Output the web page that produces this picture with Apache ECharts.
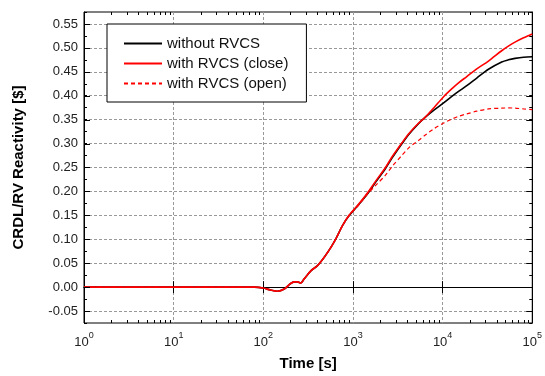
<!DOCTYPE html>
<html>
<head>
<meta charset="utf-8">
<script src="https://cdn.jsdelivr.net/npm/echarts@6/dist/echarts.min.js"></script>
<style>
html,body{margin:0;padding:0;background:#fff;}
#chart{width:545px;height:376px;}
</style>
</head>
<body>
<div id="chart"></div>
<script>
// ---- data ----
var timeS = [1, 10, 50, 80, 100, 120, 144, 171, 200, 221, 240, 262, 285, 339, 402, 476, 565, 653, 761, 903, 1166, 1442, 1800, 2306, 2735, 3530, 4190, 5410, 6420, 8000, 10260, 13000, 15060, 18600, 24040, 32450, 45600, 54100, 64200, 80000, 100000];
var withoutRVCS = [0, 0, 0, 0, -0.002, -0.006, -0.0086, -0.004, 0.007, 0.011, 0.011, 0.0087, 0.017, 0.034, 0.045, 0.062, 0.0825, 0.103, 0.128, 0.149, 0.173, 0.194, 0.220, 0.248, 0.270, 0.300, 0.319, 0.342, 0.3553, 0.370, 0.385, 0.400, 0.409, 0.421, 0.437, 0.4553, 0.4705, 0.475, 0.478, 0.4805, 0.4816];
var withRVCSclose = [0, 0, 0, 0, -0.002, -0.006, -0.0086, -0.004, 0.007, 0.011, 0.011, 0.0087, 0.017, 0.034, 0.045, 0.062, 0.0825, 0.103, 0.128, 0.150, 0.174, 0.196, 0.222, 0.250, 0.2725, 0.302, 0.3207, 0.343, 0.3553, 0.375, 0.398, 0.4165, 0.427, 0.440, 0.456, 0.4725, 0.494, 0.5036, 0.512, 0.521, 0.529];
var withRVCSopen = [0, 0, 0, 0, -0.002, -0.006, -0.0086, -0.004, 0.007, 0.011, 0.011, 0.0087, 0.017, 0.034, 0.045, 0.062, 0.0825, 0.103, 0.128, 0.149, 0.172, 0.194, 0.213, 0.234, 0.252, 0.2758, 0.291, 0.3068, 0.318, 0.331, 0.343, 0.352, 0.357, 0.362, 0.3677, 0.3725, 0.374, 0.3745, 0.374, 0.3725, 0.371];
var seriesNames = ['without RVCS', 'with RVCS (close)', 'with RVCS (open)'];
var yTickLabels = ['-0.05', '0.00', '0.05', '0.10', '0.15', '0.20', '0.25', '0.30', '0.35', '0.40', '0.45', '0.50', '0.55'];
var xMinorTicks = [];
[1, 10, 100, 1000, 10000].forEach(function (d) { for (var k = 2; k <= 9; k++) xMinorTicks.push(k * d); });
var X_MIN = 1, X_MAX = 100000, Y_MIN = -0.075, Y_MAX = 0.575;

function zip(xs, ys) { return xs.map(function (x, i) { return [x, ys[i]]; }); }

var FONT = '"Liberation Sans", Arial, sans-serif';
var chart = echarts.init(document.getElementById('chart'), null, { renderer: 'canvas' });

function tickSeries(data, fn) {
  return {
    type: 'custom', silent: true, clip: false, z: 5,
    data: data,
    renderItem: function (params, api) { return fn(api); }
  };
}

var option = {
  animation: false,
  backgroundColor: '#fff',
  textStyle: { fontFamily: FONT },
  grid: { left: 84, right: 10, top: 12, bottom: 50, show: true, borderColor: '#000', borderWidth: 1, backgroundColor: '#fff' },
  legend: {
    data: seriesNames,
    orient: 'vertical', left: 107, top: 24,
    padding: [12, 18, 11, 16],
    itemGap: 5, itemWidth: 38, itemHeight: 15,
    borderColor: '#000', borderWidth: 1, borderRadius: 0, backgroundColor: '#fff',
    itemStyle: { opacity: 0 },
    textStyle: { fontFamily: FONT, fontSize: 15, color: '#111' },
    selectedMode: false
  },
  xAxis: [{
    type: 'log', logBase: 10, min: X_MIN, max: X_MAX, splitNumber: 5,
    name: 'Time [s]', nameLocation: 'middle', nameGap: 33,
    nameTextStyle: { fontFamily: FONT, fontSize: 15, fontWeight: 'bold', color: '#000' },
    axisLine: { lineStyle: { color: '#000', width: 1 } },
    axisTick: { inside: true, length: 6, lineStyle: { color: '#000' } },
    axisLabel: {
      margin: 8, color: '#222',
      formatter: function (v) { return '{b|10}{s|' + Math.round(Math.log10(v)) + '}'; },
      rich: {
        b: { fontSize: 13, fontFamily: FONT, color: '#222', lineHeight: 18, verticalAlign: 'bottom' },
        s: { fontSize: 9, fontFamily: FONT, color: '#222', lineHeight: 18, verticalAlign: 'top', padding: [0, 0, 0, 0] }
      }
    },
    splitLine: { show: true, lineStyle: { color: '#999', type: [3, 2], width: 1 } }
  }, {
    type: 'log', logBase: 10, min: X_MIN, max: X_MAX, splitNumber: 5, position: 'top',
    axisLine: { show: true, lineStyle: { color: '#000' } },
    axisTick: { inside: true, length: 6, lineStyle: { color: '#000' } },
    axisLabel: { show: false }, splitLine: { show: false }
  }],
  yAxis: [{
    type: 'value', min: Y_MIN, max: Y_MAX, interval: 0.025,
    name: 'CRDL/RV Reactivity [$]', nameLocation: 'middle', nameGap: 58,
    nameTextStyle: { fontFamily: FONT, fontSize: 15, fontWeight: 'bold', color: '#000' },
    axisLine: { show: true, lineStyle: { color: '#000', width: 1 } },
    axisTick: { show: true, inside: true, length: 3, lineStyle: { color: '#000' } },
    axisLabel: {
      margin: 6, color: '#222', fontSize: 13, fontFamily: FONT,
      formatter: function (v) { var s = (Math.abs(v) < 1e-9 ? 0 : v).toFixed(2); return yTickLabels.indexOf(s) >= 0 ? s : ''; }
    },
    splitLine: { show: true, lineStyle: { color: ['rgba(0,0,0,0)', '#999'], type: [3, 2], width: 1 } }
  }, {
    type: 'value', min: Y_MIN, max: Y_MAX, interval: 0.025, position: 'right',
    axisLine: { show: true, lineStyle: { color: '#000' } },
    axisTick: { show: true, inside: true, length: 3, lineStyle: { color: '#000' } },
    axisLabel: { show: false }, splitLine: { show: false }
  }],
  series: [
    { name: seriesNames[0], type: 'line', data: zip(timeS, withoutRVCS), showSymbol: false, symbol: 'none', smooth: 0.3,
      lineStyle: { color: '#000', width: 1.6 }, itemStyle: { color: '#000' }, z: 2 },
    { name: seriesNames[1], type: 'line', data: zip(timeS, withRVCSclose), showSymbol: false, symbol: 'none', smooth: 0.3,
      lineStyle: { color: '#ff0000', width: 1.6 }, itemStyle: { color: '#ff0000' }, z: 3 },
    { name: seriesNames[2], type: 'line', data: zip(timeS, withRVCSopen), showSymbol: false, symbol: 'none', smooth: 0.3,
      lineStyle: { color: '#ff0000', width: 1.2, type: [4, 3] }, itemStyle: { color: '#ff0000' }, z: 3 },
    tickSeries(xMinorTicks.map(function (x) { return [x, Y_MIN]; }), function (api) {
      var x = api.value(0);
      var b = api.coord([x, Y_MIN]), t = api.coord([x, Y_MAX]);
      var px = Math.round(b[0]) + 0.5;
      return { type: 'group', children: [
        { type: 'line', shape: { x1: px, y1: b[1], x2: px, y2: b[1] - 3 }, style: { stroke: '#000', lineWidth: 1 } },
        { type: 'line', shape: { x1: px, y1: t[1], x2: px, y2: t[1] + 3 }, style: { stroke: '#000', lineWidth: 1 } }
      ] };
    }),
    tickSeries(yTickLabels.map(function (s) { return [X_MIN, parseFloat(s)]; }), function (api) {
      var v = api.value(1);
      var l = api.coord([X_MIN, v]), r = api.coord([X_MAX, v]);
      var py = Math.round(l[1]) + 0.5;
      return { type: 'group', children: [
        { type: 'line', shape: { x1: l[0], y1: py, x2: l[0] + 6, y2: py }, style: { stroke: '#000', lineWidth: 1 } },
        { type: 'line', shape: { x1: r[0], y1: py, x2: r[0] - 6, y2: py }, style: { stroke: '#000', lineWidth: 1 } }
      ] };
    })
  ]
};
chart.setOption(option);
</script>
</body>
</html>
